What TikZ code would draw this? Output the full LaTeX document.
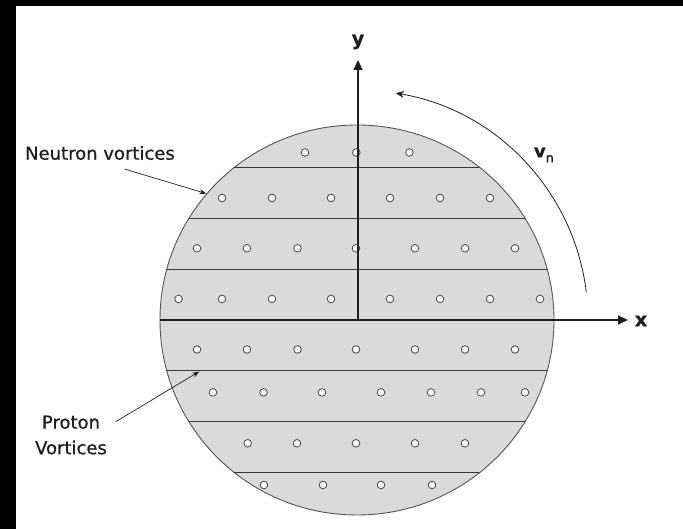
\documentclass[tikz,border=0pt]{standalone}
\usepackage{fontspec}
\setmainfont{DejaVu Sans}[FakeBold=0.8]
\usepackage{xcolor}
\definecolor{discfill}{RGB}{218, 218, 218}
\definecolor{discline}{RGB}{85, 85, 85}
\definecolor{bandline}{RGB}{55, 55, 55}
\definecolor{ink}{RGB}{30, 30, 30}
\usetikzlibrary{arrows.meta, shapes.geometric}

\begin{document}
\begin{tikzpicture}[x=1pt, y=1pt, font=\fontsize{18}{25.6}\selectfont, text=ink,
    vortex/.style={draw=discline, fill=white, line width=0.9pt},
    axis/.style={-{Triangle[length=10pt, width=9pt]}, ink, line width=1.1pt},
    pointer/.style={-{Stealth[length=7pt, width=5pt]}, ink, line width=0.7pt}]
  \useasboundingbox (-358,-209) rectangle (325,320);
  % Scan border
  \fill[black] (-358,314) rectangle (325,320);
  \fill[black] (-358,-209) rectangle (-342,320);
  % Star disc
  \node[ellipse, draw=discline, fill=discfill, line width=0.9pt, inner sep=0pt,
        minimum width=394pt, minimum height=390pt] (disc) at (-1,0) {};
  % Bands
  \begin{scope}
    \clip (-1,0) ellipse [x radius=197, y radius=195];
    \foreach \k in {-3,-2,-1,1,2,3}
      \draw[bandline, line width=1pt] (-200,\k*50.7) -- (200,\k*50.7);
  \end{scope}
  % Vortices
  \foreach \ry/\xs in {167.5/{-53,-1.7,51.4},
                       122/{-136,-86,-27,32,82,132},
                       71.7/{-161,-111,-60.5,-2,57,107,157},
                       21/{-179.4,-136,-86,-27,32,82,132,182},
                       -29.5/{-161,-111,-60.5,-2,57,107,157},
                       -72.4/{-145,-94.5,-36,23,73,123,167},
                       -123.3/{-110.3,-61,-2,57,107},
                       -165/{-94,-35,23,74}} {
    \foreach \rx in \xs
      \draw[vortex] (\rx,\ry) circle (3.8);
  }
  % Axes
  \coordinate (o) at (0,0);
  \coordinate (xtip) at (270,0);
  \coordinate (ytip) at (0,260);
  \draw[axis] (disc.west) -- (xtip);
  \draw[axis] (o) -- (ytip);
  \node[font=\fontsize{19}{19}\selectfont\bfseries] (xlab) at (283,-1) {x};
  \node[font=\fontsize{19}{19}\selectfont\bfseries] (ylab) at (0,278) {y};
  % Rotation
  \coordinate (rotstart) at (7:230);
  \draw[-{Stealth[length=8pt, width=7pt]}, ink, line width=0.8pt]
    (rotstart) arc[start angle=7, end angle=80.5, radius=230];
  \node (vlab) at (186,165) {{\bfseries v}{\fontsize{13}{13}\selectfont\raisebox{-5pt}{n}}};
  % Labels
  \node[inner sep=2pt] (neutron) at (-258,167) {Neutron vortices};
  \draw[pointer] ([shift={(25,-7)}]neutron.south) -- (disc.140);
  \node[inner sep=2pt, align=center] (proton) at (-287,-115) {Proton\\Vortices};
  \coordinate (pend) at (-158.7,-51.5);
  \draw[pointer] ([shift={(7,13.5)}]proton.east) -- (pend);
\end{tikzpicture}
\end{document}
